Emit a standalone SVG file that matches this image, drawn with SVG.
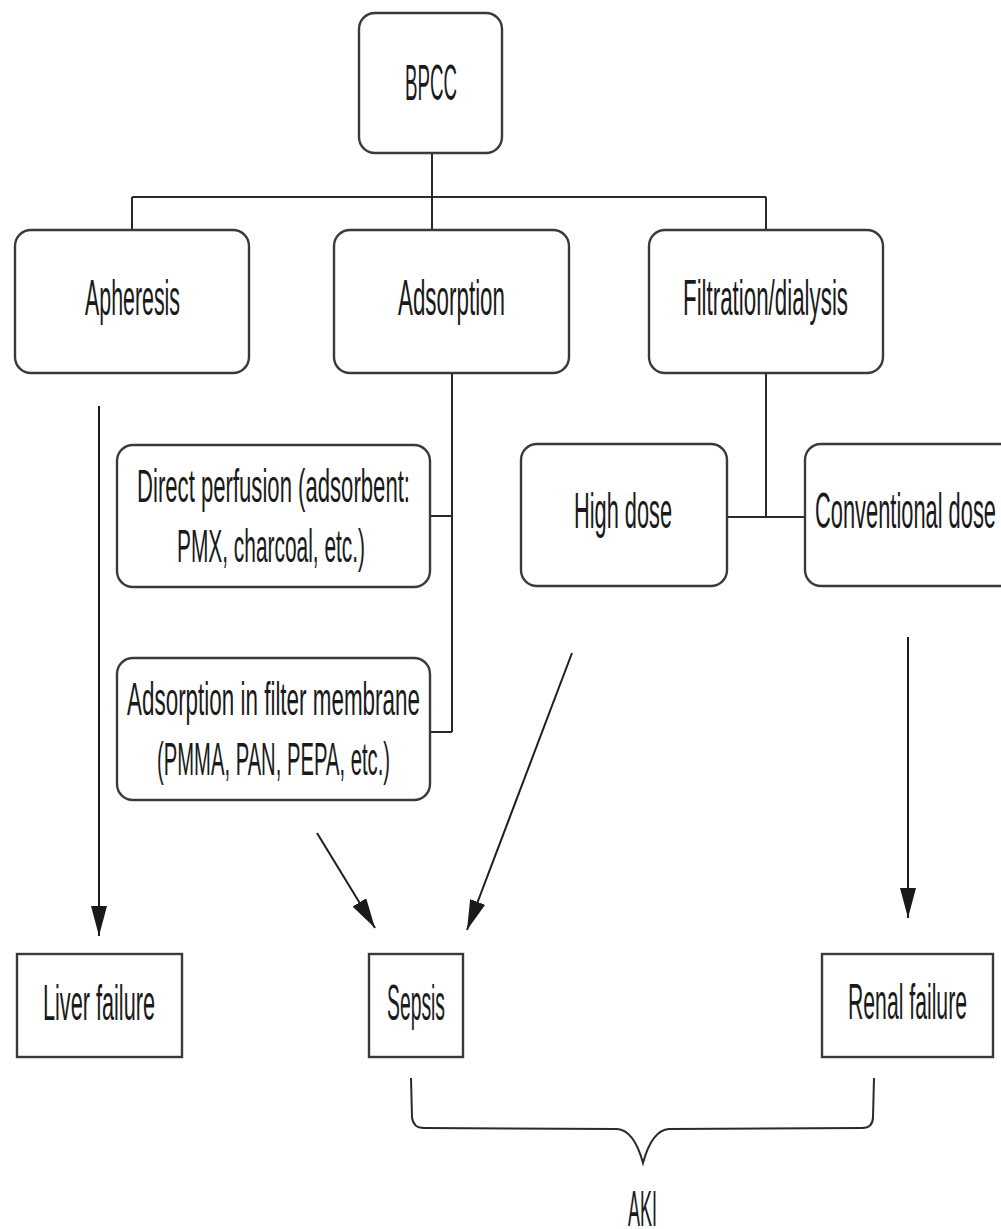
<svg xmlns="http://www.w3.org/2000/svg" width="1001" height="1229" viewBox="0 0 1001 1229">
  <defs>
    <marker id="arrow" markerUnits="userSpaceOnUse" markerWidth="30" markerHeight="16" refX="30" refY="8" orient="auto">
      <path d="M0,0 L30,8 L0,16 z" fill="#1a1a1a"/>
    </marker>
  </defs>
  <style>
    .node { fill: #ffffff; stroke: #3a3a3a; stroke-width: 2.4; }
    .lbl { font-family: "Liberation Sans", Arial, sans-serif; font-size: 50px; fill: #1a1a1a; text-anchor: start; }
    .two { font-size: 46px; }
    .wire { fill: none; stroke: #2a2a2a; stroke-width: 2; }
    .arr { fill: none; stroke: #1e1e1e; stroke-width: 2; marker-end: url(#arrow); }
  </style>
  <rect width="1001" height="1229" fill="#ffffff"/>

  <!-- tree connectors and arrows -->
  <g id="connectors">
    <path class="wire" d="M432,153 V197 M132,197 H766 M132,197 V230 M432,197 V230 M766,197 V230"/>
    <path class="wire" d="M452,373 V732 M430,516 H452 M430,732 H452"/>
    <path class="wire" d="M766,373 V517 M727,517 H805"/>
    <line class="arr" x1="99" y1="406" x2="99" y2="936"/>
    <line class="arr" x1="317" y1="833" x2="375" y2="928"/>
    <line class="arr" x1="572" y1="653" x2="467" y2="930"/>
    <line class="arr" x1="908" y1="637" x2="908" y2="918"/>
    <path class="wire" d="M411,1078 L412,1117 Q413,1128 424,1128 L617,1129 Q634,1130 643,1163 Q652,1130 669,1129 L862,1128 Q873,1128 873,1117 L874,1078"/>
  </g>

  <g id="bpcc">
    <rect class="node" x="359" y="13" width="143" height="140" rx="16"/>
    <text class="lbl" x="405" y="100" textLength="52" lengthAdjust="spacingAndGlyphs">BPCC</text>
  </g>
  <g id="apheresis">
    <rect class="node" x="15" y="230" width="234" height="143" rx="16"/>
    <text class="lbl" x="85" y="315" textLength="95" lengthAdjust="spacingAndGlyphs">Apheresis</text>
  </g>
  <g id="adsorption">
    <rect class="node" x="334" y="230" width="235" height="143" rx="16"/>
    <text class="lbl" x="398" y="315" textLength="107" lengthAdjust="spacingAndGlyphs">Adsorption</text>
  </g>
  <g id="filtration">
    <rect class="node" x="649" y="230" width="234" height="143" rx="16"/>
    <text class="lbl" x="683" y="315" textLength="165" lengthAdjust="spacingAndGlyphs">Filtration/dialysis</text>
  </g>
  <g id="direct-perfusion">
    <rect class="node" x="117" y="445" width="313" height="142" rx="16"/>
    <text class="lbl two" x="137" y="502" textLength="273" lengthAdjust="spacingAndGlyphs">Direct perfusion (adsorbent:</text>
    <text class="lbl two" x="177" y="562" textLength="188" lengthAdjust="spacingAndGlyphs">PMX, charcoal, etc.)</text>
  </g>
  <g id="filter-membrane">
    <rect class="node" x="117" y="658" width="313" height="142" rx="16"/>
    <text class="lbl two" x="127" y="715" textLength="293" lengthAdjust="spacingAndGlyphs">Adsorption in filter membrane</text>
    <text class="lbl two" x="157" y="775" textLength="233" lengthAdjust="spacingAndGlyphs">(PMMA, PAN, PEPA, etc.)</text>
  </g>
  <g id="high-dose">
    <rect class="node" x="521" y="444" width="206" height="142" rx="16"/>
    <text class="lbl" x="574" y="528" textLength="98" lengthAdjust="spacingAndGlyphs">High dose</text>
  </g>
  <g id="conventional-dose">
    <rect class="node" x="805" y="444" width="240" height="142" rx="16"/>
    <text class="lbl" x="815" y="528" textLength="181" lengthAdjust="spacingAndGlyphs">Conventional dose</text>
  </g>
  <g id="liver-failure">
    <rect class="node" x="17" y="954" width="165" height="103"/>
    <text class="lbl" x="43" y="1020" textLength="112" lengthAdjust="spacingAndGlyphs">Liver failure</text>
  </g>
  <g id="sepsis">
    <rect class="node" x="369" y="954" width="94" height="103"/>
    <text class="lbl" x="387" y="1020" textLength="58" lengthAdjust="spacingAndGlyphs">Sepsis</text>
  </g>
  <g id="renal-failure">
    <rect class="node" x="822" y="954" width="171" height="103"/>
    <text class="lbl" x="848" y="1019" textLength="119" lengthAdjust="spacingAndGlyphs">Renal failure</text>
  </g>
  <g id="aki">
    <text class="lbl" x="628" y="1226" textLength="29" lengthAdjust="spacingAndGlyphs">AKI</text>
  </g>
</svg>
